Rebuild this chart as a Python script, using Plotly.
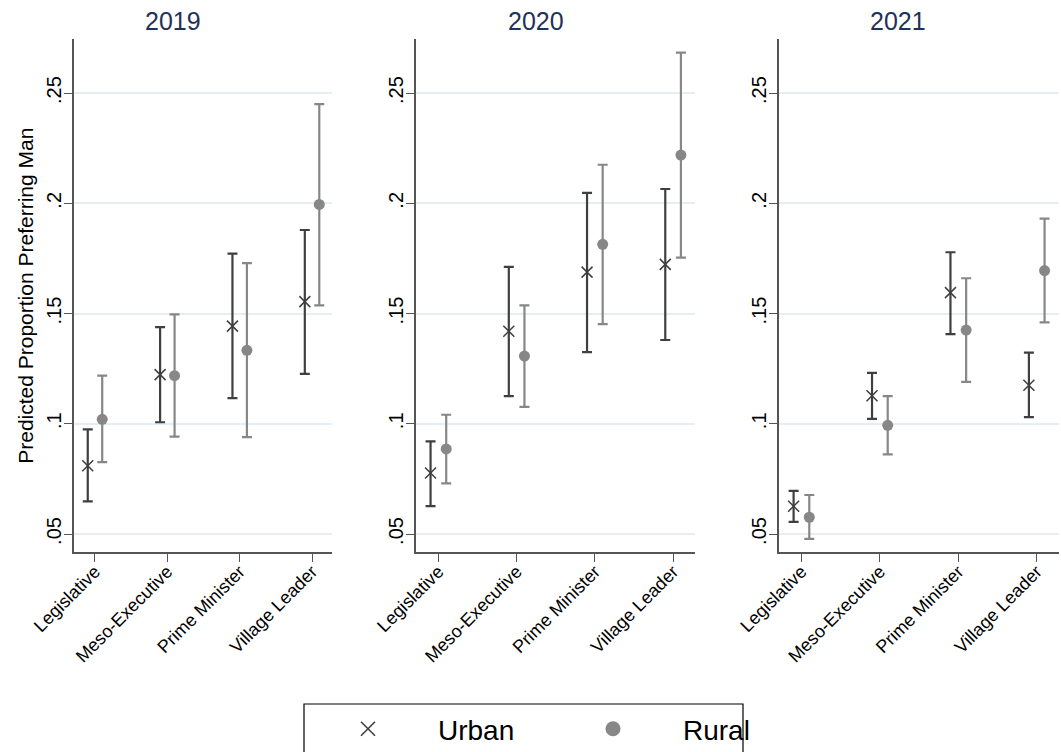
import numpy as np
import plotly.graph_objects as go

# Office categories on the x axis
categories = ["Legislative", "Meso-Executive", "Prime Minister", "Village Leader"]
years = ["2019", "2020", "2021"]

# Predicted proportions with 95% confidence bounds, by survey year
urban_2019 = [0.0810, 0.1223, 0.1443, 0.1554]
urban_2019_lo = [0.0648, 0.1007, 0.1116, 0.1226]
urban_2019_hi = [0.0975, 0.1438, 0.1772, 0.1879]
rural_2019 = [0.1020, 0.1218, 0.1333, 0.1995]
rural_2019_lo = [0.0826, 0.0942, 0.0939, 0.1537]
rural_2019_hi = [0.1218, 0.1496, 0.1729, 0.2450]

urban_2020 = [0.0777, 0.1420, 0.1688, 0.1723]
urban_2020_lo = [0.0626, 0.1125, 0.1325, 0.1380]
urban_2020_hi = [0.0920, 0.1712, 0.2047, 0.2065]
rural_2020 = [0.0886, 0.1307, 0.1814, 0.2219]
rural_2020_lo = [0.0730, 0.1077, 0.1452, 0.1754]
rural_2020_hi = [0.1041, 0.1537, 0.2175, 0.2684]

urban_2021 = [0.0626, 0.1127, 0.1595, 0.1175]
urban_2021_lo = [0.0555, 0.1022, 0.1407, 0.1030]
urban_2021_hi = [0.0696, 0.1231, 0.1778, 0.1323]
rural_2021 = [0.0576, 0.0993, 0.1425, 0.1695]
rural_2021_lo = [0.0478, 0.0861, 0.1190, 0.1460]
rural_2021_hi = [0.0677, 0.1125, 0.1660, 0.1931]

y_tick_vals = [0.05, 0.10, 0.15, 0.20, 0.25]
y_tick_text = [".05", ".1", ".15", ".2", ".25"]

panels = [
    (urban_2019, urban_2019_lo, urban_2019_hi, rural_2019, rural_2019_lo, rural_2019_hi),
    (urban_2020, urban_2020_lo, urban_2020_hi, rural_2020, rural_2020_lo, rural_2020_hi),
    (urban_2021, urban_2021_lo, urban_2021_hi, rural_2021, rural_2021_lo, rural_2021_hi),
]

URBAN = "#3f3f3f"
RURAL = "#878787"
FONT = "Liberation Sans, Arial, sans-serif"
W, H = 1061, 752

positions = np.arange(1, len(categories) + 1)
dodge = 0.1

fig = go.Figure()

for i, (u, ulo, uhi, r, rlo, rhi) in enumerate(panels):
    xa = "x" if i == 0 else f"x{i + 1}"
    ya = "y" if i == 0 else f"y{i + 1}"
    u, ulo, uhi = map(np.array, (u, ulo, uhi))
    r, rlo, rhi = map(np.array, (r, rlo, rhi))
    fig.add_trace(go.Scatter(
        x=positions - dodge, y=u, mode="markers", xaxis=xa, yaxis=ya,
        showlegend=False,
        marker=dict(symbol="x-thin", size=11, color=URBAN,
                    line=dict(color=URBAN, width=1.5)),
        error_y=dict(type="data", symmetric=False, array=uhi - u,
                     arrayminus=u - ulo, color=URBAN, thickness=2.2, width=5),
    ))
    fig.add_trace(go.Scatter(
        x=positions + dodge, y=r, mode="markers", xaxis=xa, yaxis=ya,
        showlegend=False,
        marker=dict(symbol="circle", size=11, color=RURAL),
        error_y=dict(type="data", symmetric=False, array=rhi - r,
                     arrayminus=r - rlo, color=RURAL, thickness=2.2, width=5),
    ))

# Legend keys
fig.add_trace(go.Scatter(x=[None], y=[None], mode="markers", name="Urban",
                         marker=dict(symbol="x-thin", size=14, color=URBAN,
                                     line=dict(color=URBAN, width=1.6))))
fig.add_trace(go.Scatter(x=[None], y=[None], mode="markers", name="Rural",
                         marker=dict(symbol="circle", size=15, color=RURAL)))

x_domains = [[74 / W, 332.3 / W], [415.7 / W, 695 / W], [778.7 / W, 1058.7 / W]]
y_domain = [1 - 552.3 / H, 1 - 39.3 / H]

layout = dict(
    width=W, height=H,
    margin=dict(l=0, r=0, t=0, b=0, autoexpand=False),
    paper_bgcolor="white", plot_bgcolor="white",
    font=dict(family=FONT, color="black"),
    showlegend=True,
    legend=dict(
        orientation="h", x=298 / W, xanchor="left",
        y=1 - 704 / H, yanchor="top",
        borderwidth=0, bgcolor="rgba(0,0,0,0)",
        font=dict(size=28, family=FONT, color="black"),
        itemwidth=130, entrywidth=100, entrywidthmode="pixels",
    ),
    shapes=[dict(type="rect", xref="paper", yref="paper",
                 x0=304 / W, x1=743 / W, y0=-0.05, y1=1 - 704 / H,
                 line=dict(color="black", width=1.2), layer="below")],
)

for i in range(3):
    sx = "" if i == 0 else str(i + 1)
    layout[f"xaxis{sx}"] = dict(
        domain=x_domains[i], range=[0.71, 4.28], anchor=f"y{sx}",
        tickvals=list(positions), ticktext=categories, tickangle=-45,
        tickfont=dict(size=18, color="black"),
        ticks="outside", ticklen=8, tickwidth=1.2, tickcolor="#555555",
        ticklabelstandoff=-8,
        showline=True, linecolor="#555555", linewidth=1.5,
        showgrid=False, zeroline=False, automargin=False,
    )
    layout[f"yaxis{sx}"] = dict(
        domain=y_domain, range=[0.0417, 0.2744], anchor=f"x{sx}",
        tickvals=y_tick_vals, ticktext=y_tick_text, tickangle=-90,
        tickfont=dict(size=20, color="black"),
        ticks="outside", ticklen=8, tickwidth=1.2, tickcolor="#555555",
        ticklabelstandoff=-5,
        showline=True, linecolor="#555555", linewidth=1.5,
        showgrid=True, gridcolor="#e7eef1", gridwidth=1.5,
        zeroline=False, automargin=False,
    )

fig.update_layout(**layout)

# Panel titles and shared y-axis title
title_x = [172.5, 536, 898]
for yr, tx in zip(years, title_x):
    fig.add_annotation(text=yr, x=tx / W, y=1 - 21 / H, xref="paper", yref="paper",
                       showarrow=False, xanchor="center", yanchor="middle",
                       font=dict(size=25, color="#1f3158", family=FONT))
fig.add_annotation(text="Predicted Proportion Preferring Man", textangle=-90,
                   x=26 / W, y=1 - 295.8 / H, xref="paper", yref="paper",
                   showarrow=False, xanchor="center", yanchor="middle",
                   font=dict(size=21, color="black", family=FONT))

fig.write_html("out.html")
